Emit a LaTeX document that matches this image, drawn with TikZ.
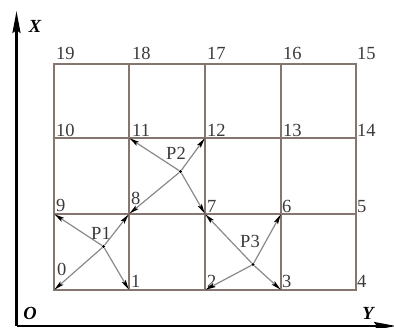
\documentclass[tikz,border=0pt]{standalone}
\usepackage{fontspec}
\setmainfont{Liberation Serif}
\usetikzlibrary{arrows.meta}
\definecolor{gridc}{HTML}{857670}
\definecolor{linec}{HTML}{8C8888}
\definecolor{txtc}{HTML}{3A3A3A}
\begin{document}
\begin{tikzpicture}[x=1pt,y=-1pt,
  gridline/.style={draw=gridc,line width=1.2pt},
  pline/.style={draw=linec,line width=1.2pt,-{Stealth[length=10pt,width=4.5pt,inset=2pt,color=black]},shorten >=0.5pt},
  num/.style={font=\fontsize{18.5}{18.5}\selectfont,text=txtc,inner sep=0pt,anchor=south west},
  plab/.style={font=\fontsize{18.5}{18.5}\selectfont,text=txtc,inner sep=0pt},
  axis/.style={draw=black,line width=2.4pt},
  axlab/.style={font=\fontsize{18.5}{18.5}\selectfont\bfseries\itshape,inner sep=0pt},
  dot/.style={circle,fill=black,inner sep=0pt,minimum size=3.2pt}]
\useasboundingbox (0,0) rectangle (394,328);
% grid corner coordinates
\coordinate (c0) at (54,290);  \coordinate (c1) at (129,290); \coordinate (c2) at (205,290); \coordinate (c3) at (281,290); \coordinate (c4) at (356,290);
\coordinate (c9) at (54,214);  \coordinate (c8) at (129,214); \coordinate (c7) at (205,214); \coordinate (c6) at (281,214); \coordinate (c5) at (356,214);
\coordinate (c10) at (54,138); \coordinate (c11) at (129,138); \coordinate (c12) at (205,138); \coordinate (c13) at (281,138); \coordinate (c14) at (356,138);
\coordinate (c19) at (54,64);  \coordinate (c18) at (129,64); \coordinate (c17) at (205,64); \coordinate (c16) at (281,64); \coordinate (c15) at (356,64);
% grid
\draw[gridline] (c19) rectangle (c4);
\draw[gridline] (c10) -- (c14);
\draw[gridline] (c9) -- (c5);
\draw[gridline] (c18) -- (c1);
\draw[gridline] (c17) -- (c2);
\draw[gridline] (c16) -- (c3);
% axes
\coordinate (o) at (16.5,326);
\coordinate (xt) at (16.5,11);
\coordinate (yt) at (396,326);
\draw[axis,-{Stealth[length=22pt,width=8pt,inset=3pt]}] (o) -- (xt);
\draw[axis,-{Stealth[length=22pt,width=8pt,inset=3pt]}] (o) -- (yt);
\node[axlab] (lx) at (35,26) {X};
\node[axlab] (lo) at (30,313) {O};
\node[axlab] (ly) at (368,313) {Y};
% labels
\node[num] (n19) at (56,60) {19};
\node[num] (n18) at (132,60) {18};
\node[num] (n17) at (207,60) {17};
\node[num] (n16) at (283,60) {16};
\node[num] (n15) at (357,60) {15};
\node[num] (n10) at (56,137) {10};
\node[num] (n11) at (132,137) {11};
\node[num] (n12) at (207,137) {12};
\node[num] (n13) at (283,137) {13};
\node[num] (n14) at (357,137) {14};
\node[num] (n9) at (56,212) {9};
\node[num] (n8) at (131,205) {8};
\node[num] (n7) at (207,213) {7};
\node[num] (n6) at (282,213) {6};
\node[num] (n5) at (357,213) {5};
\node[num] (n0) at (57,276) {0};
\node[num] (n1) at (131,288) {1};
\node[num] (n2) at (207,288) {2};
\node[num] (n3) at (282,288) {3};
\node[num] (n4) at (357,288) {4};
% points
\node[dot] (p1) at (103.5,246.5) {};
\node[dot] (p2) at (180.5,171.5) {};
\node[dot] (p3) at (253,264.5) {};
\node[plab] (lp1) at (101,233) {P1};
\node[plab] (lp2) at (176,153.5) {P2};
\node[plab] (lp3) at (250,241) {P3};
% connectors
\draw[pline] (p1) -- (c9);
\draw[pline] (p1) -- (c8);
\draw[pline] (p1) -- (c0);
\draw[pline] (p1) -- (c1);
\draw[pline] (p2) -- (c11);
\draw[pline] (p2) -- (c12);
\draw[pline] (p2) -- (c8);
\draw[pline] (p2) -- (c7);
\draw[pline] (p3) -- (c7);
\draw[pline] (p3) -- (c6);
\draw[pline] (p3) -- (c2);
\draw[pline] (p3) -- (c3);
\end{tikzpicture}
\end{document}
